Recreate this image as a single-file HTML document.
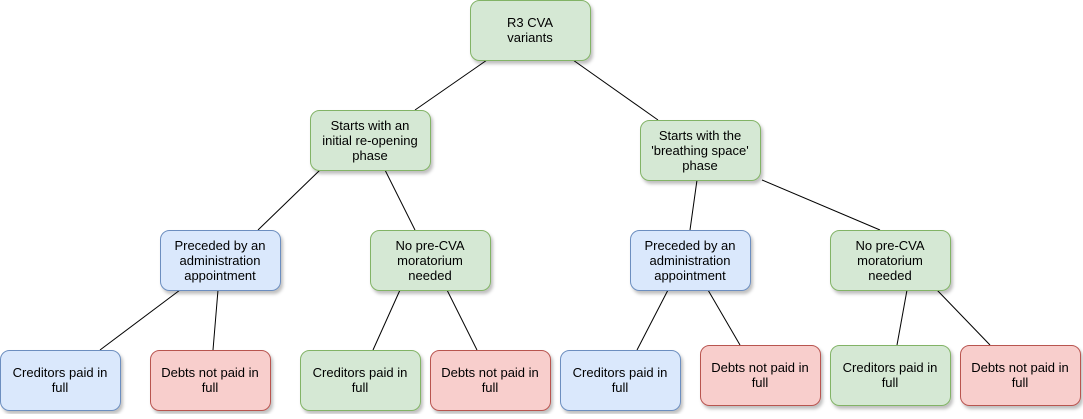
<!DOCTYPE html>
<html><head><meta charset="utf-8"><style>
body{margin:0;background:#fff;}
svg text{font-family:"Liberation Sans",Helvetica,Arial,sans-serif;font-size:13px;fill:#000;}
</style></head><body>
<svg width="1083" height="414" viewBox="0 0 1083 414" xmlns="http://www.w3.org/2000/svg">
<defs>
<filter id="sh" x="-10%" y="-10%" width="130%" height="130%"><feDropShadow dx="2" dy="3" stdDeviation="1.5" flood-color="#000" flood-opacity="0.25"/></filter>
</defs>
<g stroke="#000" stroke-width="1" fill="none">
<line x1="487" y1="60" x2="415" y2="110"/>
<line x1="573" y1="60" x2="658" y2="120"/>
<line x1="320" y1="170" x2="258" y2="230"/>
<line x1="385" y1="170" x2="415" y2="230"/>
<line x1="697" y1="180" x2="690" y2="230"/>
<line x1="762" y1="180" x2="880" y2="230"/>
<line x1="180" y1="290" x2="100" y2="350"/>
<line x1="218" y1="290" x2="213" y2="350"/>
<line x1="400" y1="290" x2="373" y2="350"/>
<line x1="447" y1="290" x2="477" y2="350"/>
<line x1="668" y1="290" x2="637" y2="350"/>
<line x1="708" y1="290" x2="740" y2="345"/>
<line x1="907" y1="290" x2="897" y2="345"/>
<line x1="937" y1="290" x2="990" y2="345"/>
</g>
<g filter="url(#sh)">
<rect x="470.5" y="0.5" width="120" height="60" rx="9" fill="#d5e8d4" stroke="#82b366"/>
<rect x="310.5" y="110.5" width="120" height="60" rx="9" fill="#d5e8d4" stroke="#82b366"/>
<rect x="640.5" y="120.5" width="120" height="60" rx="9" fill="#d5e8d4" stroke="#82b366"/>
<rect x="160.5" y="230.5" width="120" height="60" rx="9" fill="#dae8fc" stroke="#6c8ebf"/>
<rect x="370.5" y="230.5" width="120" height="60" rx="9" fill="#d5e8d4" stroke="#82b366"/>
<rect x="630.5" y="230.5" width="120" height="60" rx="9" fill="#dae8fc" stroke="#6c8ebf"/>
<rect x="830.5" y="230.5" width="120" height="60" rx="9" fill="#d5e8d4" stroke="#82b366"/>
<rect x="0.5" y="350.5" width="120" height="60" rx="9" fill="#dae8fc" stroke="#6c8ebf"/>
<rect x="150.5" y="350.5" width="120" height="60" rx="9" fill="#f8cecc" stroke="#b85450"/>
<rect x="300.5" y="350.5" width="120" height="60" rx="9" fill="#d5e8d4" stroke="#82b366"/>
<rect x="430.5" y="350.5" width="120" height="60" rx="9" fill="#f8cecc" stroke="#b85450"/>
<rect x="560.5" y="350.5" width="120" height="60" rx="9" fill="#dae8fc" stroke="#6c8ebf"/>
<rect x="700.5" y="345.5" width="120" height="60" rx="9" fill="#f8cecc" stroke="#b85450"/>
<rect x="830.5" y="345.5" width="120" height="60" rx="9" fill="#d5e8d4" stroke="#82b366"/>
<rect x="960.5" y="345.5" width="120" height="60" rx="9" fill="#f8cecc" stroke="#b85450"/>
</g>
<g text-anchor="middle">
<text x="530" y="27">R3 CVA</text><text x="530" y="42">variants</text>
<text x="370" y="130">Starts with an</text><text x="370" y="145">initial re-opening</text><text x="370" y="160">phase</text>
<text x="700" y="140">Starts with the</text><text x="700" y="155">'breathing space'</text><text x="700" y="170">phase</text>
<text x="220" y="250">Preceded by an</text><text x="220" y="265">administration</text><text x="220" y="280">appointment</text>
<text x="430" y="250">No pre-CVA</text><text x="430" y="265">moratorium</text><text x="430" y="280">needed</text>
<text x="690" y="250">Preceded by an</text><text x="690" y="265">administration</text><text x="690" y="280">appointment</text>
<text x="890" y="250">No pre-CVA</text><text x="890" y="265">moratorium</text><text x="890" y="280">needed</text>
<text x="60" y="377">Creditors paid in</text><text x="60" y="392">full</text>
<text x="210" y="377">Debts not paid in</text><text x="210" y="392">full</text>
<text x="360" y="377">Creditors paid in</text><text x="360" y="392">full</text>
<text x="490" y="377">Debts not paid in</text><text x="490" y="392">full</text>
<text x="620" y="377">Creditors paid in</text><text x="620" y="392">full</text>
<text x="760" y="372">Debts not paid in</text><text x="760" y="387">full</text>
<text x="890" y="372">Creditors paid in</text><text x="890" y="387">full</text>
<text x="1020" y="372">Debts not paid in</text><text x="1020" y="387">full</text>
</g>
</svg>
</body></html>
